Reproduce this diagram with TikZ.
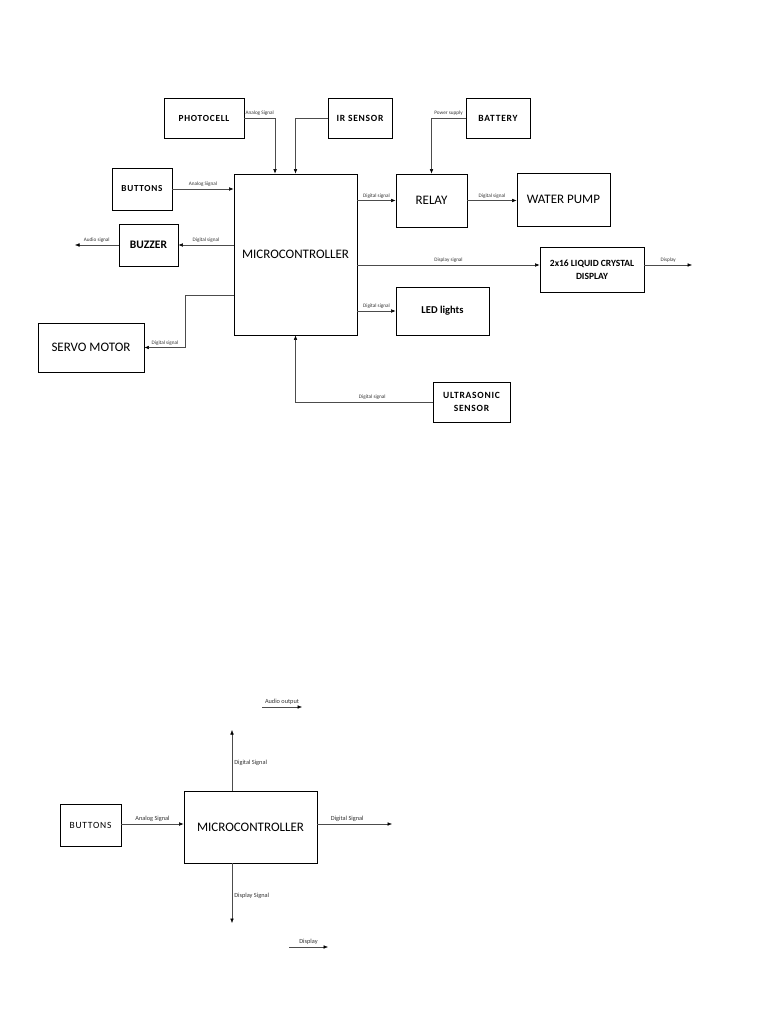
\documentclass[tikz,border=0pt]{standalone}
\usepackage{fontspec}
\setmainfont{Carlito}
\newfontfamily\spaced[LetterSpace=8]{Carlito}
\usetikzlibrary{arrows.meta}

\begin{document}
\begin{tikzpicture}[x=1pt, y=-1pt]
  \tikzstyle{block}=[draw, line width=0.8pt, align=center, inner sep=1pt]
  \tikzstyle{big}=[font=\fontsize{13}{15}\selectfont]
  \tikzstyle{arrow}=[line width=0.5pt, draw=black!70, -{Latex[length=4.5pt, width=3.6pt, black]}]
  \tikzstyle{lbl}=[font=\fontsize{5.2}{6}\selectfont, text=black!80, inner sep=2pt]
  \tikzstyle{lblb}=[font=\fontsize{6.3}{7.5}\selectfont, text=black!80, inner sep=2pt]
  \useasboundingbox[fill=white] (0,0) rectangle (768,1024);

  \node[block, minimum width=80pt, minimum height=40pt, font=\spaced\bfseries\fontsize{9.3}{11}\selectfont] (photo) at (204, 118) {PHOTOCELL};
  \node[block, minimum width=64pt, minimum height=40pt, font=\spaced\bfseries\fontsize{9.5}{11}\selectfont] (ir)    at (360, 118) {IR SENSOR};
  \node[block, minimum width=64pt, minimum height=40pt, font=\spaced\bfseries\fontsize{9.5}{11}\selectfont] (bat)   at (498, 118) {BATTERY};
  \node[block, minimum width=60pt, minimum height=42pt, font=\spaced\bfseries\fontsize{9.2}{11}\selectfont] (btn)   at (142, 189) {BUTTONS};
  \node[block, big, minimum width=123pt, minimum height=161pt] (mcu)   at (295.5, 254.5) {MICROCONTROLLER};
  \node[block, big, minimum width=71pt, minimum height=53pt]   (relay) at (431.5, 200.5) {RELAY};
  \node[block, big, minimum width=93pt, minimum height=53pt]   (pump)  at (563.5, 199.5) {WATER PUMP};
  \node[block, minimum width=59pt, minimum height=42pt, font=\bfseries\fontsize{11.5}{13}\selectfont]       (buzz)  at (148.5, 245) {BUZZER};
  \node[block, big, minimum width=106pt, minimum height=49pt]  (servo) at (91, 347.5) {SERVO MOTOR};
  \node[block, minimum width=104pt, minimum height=45pt, font=\bfseries\fontsize{9.5}{13}\selectfont]       (lcd)   at (592, 269.5) {2x16 LIQUID CRYSTAL\\DISPLAY};
  \node[block, minimum width=93pt, minimum height=48pt, font=\bfseries\fontsize{10.5}{12}\selectfont]       (led)   at (442.5, 311) {LED lights};
  \node[block, minimum width=77pt, minimum height=40pt, font=\spaced\bfseries\fontsize{9.5}{13.5}\selectfont] (ultra) at (471.5, 402) {ULTRASONIC\\SENSOR};

  \coordinate (audio) at (75, 245);
  \coordinate (dsp) at ([yshift=4.5pt]lcd.west);
  \coordinate (lcdout) at (692, 265);

  \draw[arrow] (photo.east) -| node[lbl, above, pos=0.25] {Analog Signal} ([xshift=-20.5pt]mcu.north);
  \draw[arrow] (ir.west) -| (mcu.north);
  \draw[arrow] (bat.west) -| node[lbl, above, pos=0.25] {Power supply} (relay.north);
  \draw[arrow] (btn.east) -- node[lbl, above] {Analog Signal} (btn.east -| mcu.west);
  \draw[arrow] (relay.west -| mcu.east) -- node[lbl, above] {Digital signal} (relay.west);
  \draw[arrow] (relay.east) -- node[lbl, above] {Digital signal} (relay.east -| pump.west);
  \draw[arrow] (buzz.east -| mcu.west) -- node[lbl, above] {Digital signal} (buzz.east);
  \draw[arrow] (buzz.west) -- node[lbl, above] {Audio signal} (audio);
  \draw[arrow] ([yshift=-40.5pt]mcu.west) -- ++(-48, 0) |- node[lbl, above, pos=0.75] {Digital signal} (servo.east);
  \draw[arrow] (dsp -| mcu.east) -- node[lbl, above] {Display signal} (dsp);
  \draw[arrow] (lcd.east |- lcdout) -- node[lbl, above] {Display} (lcdout);
  \draw[arrow] (led.west -| mcu.east) -- node[lbl, above] {Digital signal} (led.west);
  \draw[arrow] (ultra.west) -| node[lbl, above, pos=0.22] {Digital signal} (mcu.south);

  \node[block, minimum width=61pt, minimum height=42pt, font=\spaced\fontsize{9.5}{11}\selectfont] (btn2) at (90.5, 825) {BUTTONS};
  \node[block, big, minimum width=133pt, minimum height=72pt] (mcu2) at (250.5, 827) {MICROCONTROLLER};

  \coordinate (up) at (232, 730);
  \coordinate (down) at (232, 923);
  \coordinate (dout) at (392, 824);
  \coordinate (aud1) at (262, 707);
  \coordinate (aud2) at (302, 707);
  \coordinate (dis1) at (289, 947);
  \coordinate (dis2) at (328, 947);

  \draw[arrow] (btn2.east |- dout) -- node[lblb, above] {Analog Signal} (mcu2.west |- dout);
  \draw[arrow] (mcu2.east |- dout) -- node[lblb, above, pos=0.4] {Digital Signal} (dout);
  \draw[arrow] (mcu2.north -| up) -- node[lblb, right, pos=0.45] {Digital Signal} (up);
  \draw[arrow] (mcu2.south -| down) -- node[lblb, right, pos=0.55] {Display Signal} (down);
  \draw[arrow] (aud1) -- node[lblb, above] {Audio output} (aud2);
  \draw[arrow] (dis1) -- node[lblb, above] {Display} (dis2);
\end{tikzpicture}
\end{document}
